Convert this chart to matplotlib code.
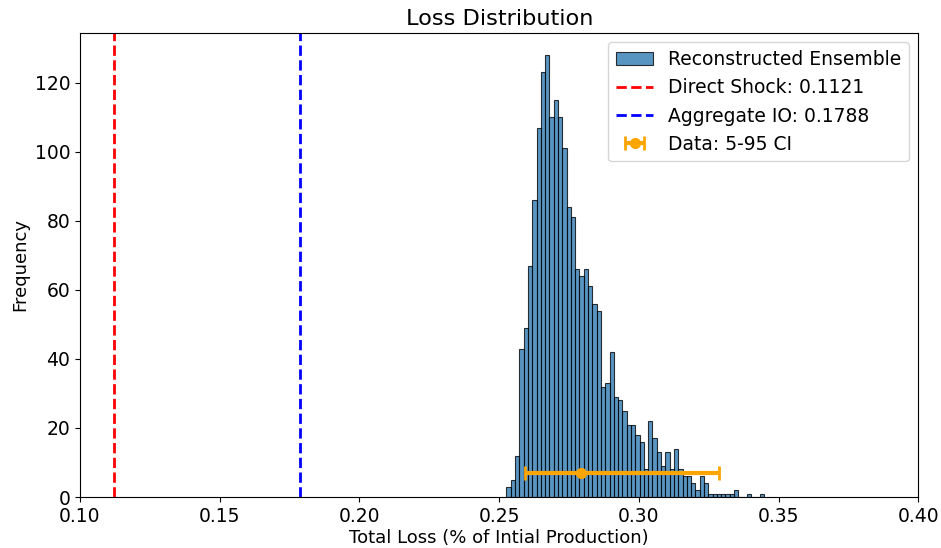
import numpy as np
import matplotlib
matplotlib.use("Agg")
import matplotlib.pyplot as plt

# Histogram data (60 bins)
bin_start = 0.2526
bin_end = 0.3448
counts = [3, 5, 12, 43, 49, 67, 86, 107, 123, 128,
          110, 115, 110, 101, 84, 81, 66, 64, 66, 61,
          56, 54, 32, 33, 42, 29, 28, 25, 21, 21,
          18, 16, 8, 22, 17, 13, 9, 13, 8, 14,
          8, 6, 6, 4, 2, 6, 4, 1, 1, 1,
          1, 1, 1, 2, 0, 0, 1, 0, 0, 1]

direct_shock = 0.1121
aggregate_io = 0.1788

ci_center = 0.2791
ci_low = 0.2591
ci_high = 0.3288
ci_y = 7

plt.rcParams['font.size'] = 13.5

fig = plt.figure(figsize=(9.41, 5.48), dpi=100)
ax = fig.add_axes([0.085, 0.093, 0.891, 0.847])

edges = np.linspace(bin_start, bin_end, len(counts) + 1)
centers = 0.5 * (edges[:-1] + edges[1:])
ax.hist(centers, bins=edges, weights=counts, color='#2a78b0', alpha=0.78,
        edgecolor='black', linewidth=0.8, label='Reconstructed Ensemble')

ax.axvline(direct_shock, color='red', linestyle='--', linewidth=2,
           label=f'Direct Shock: {direct_shock:.4f}')
ax.axvline(aggregate_io, color='blue', linestyle='--', linewidth=2,
           label=f'Aggregate IO: {aggregate_io:.4f}')

ax.errorbar([ci_center], [ci_y],
            xerr=[[ci_center - ci_low], [ci_high - ci_center]],
            fmt='o', color='orange', capsize=5, elinewidth=3, capthick=2,
            markersize=7, label='Data: 5-95 CI')

ax.set_xlim(0.10, 0.40)
ax.set_xticks([0.10, 0.15, 0.20, 0.25, 0.30, 0.35, 0.40])
ax.set_xlabel('Total Loss (% of Intial Production)', fontsize=13, labelpad=2)
ax.set_ylabel('Frequency', fontsize=13)
ax.set_title('Loss Distribution')
ax.legend(loc='upper right')

fig.savefig('out.png', dpi=100)
